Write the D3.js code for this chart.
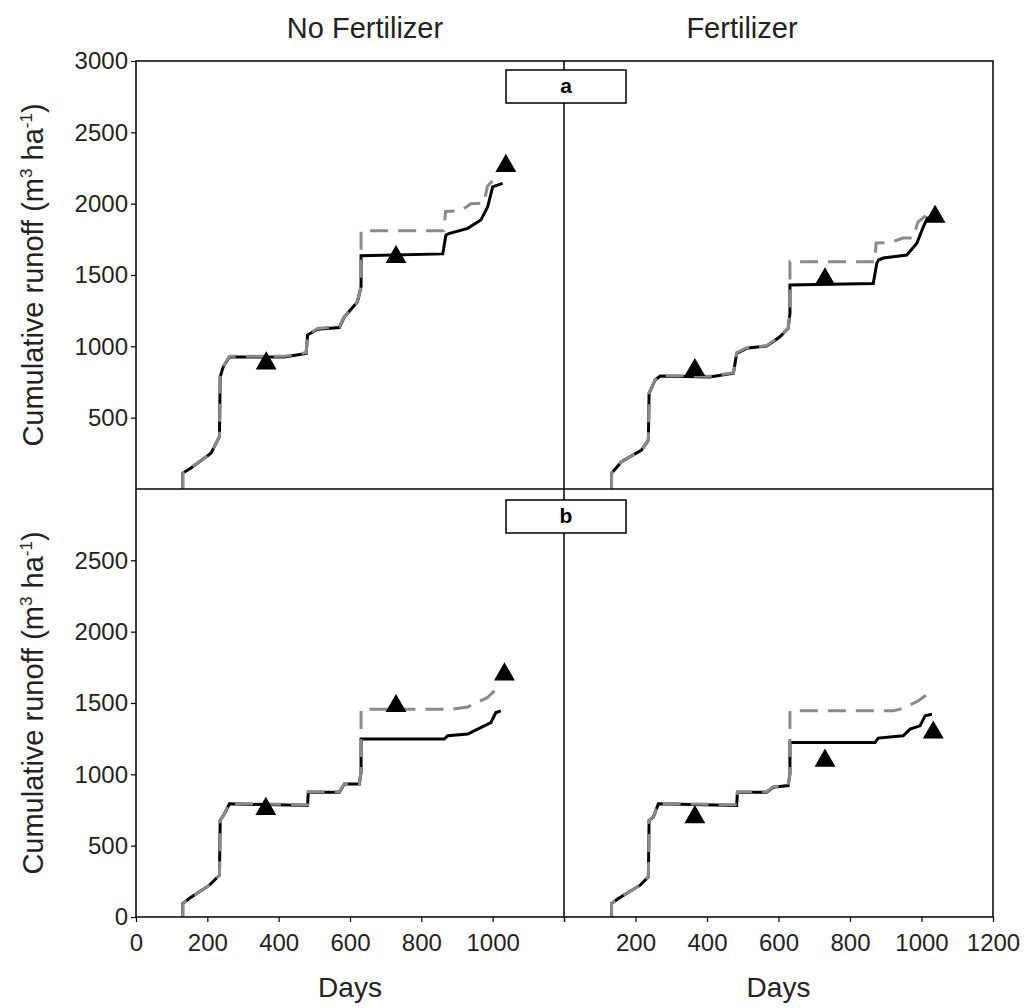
<!DOCTYPE html>
<html>
<head>
<meta charset="utf-8">
<script src="https://cdnjs.cloudflare.com/ajax/libs/d3/7.8.5/d3.min.js"></script>
<style>
  body { margin: 0; background: #fff; }
  svg { font-family: "Liberation Sans", Arial, sans-serif; }
</style>
</head>
<body>
<div id="vis"></div>
<script>
// cumulative runoff, [day, m3/ha]
var noFertA_sim = [[131,0],[131,112],[150,140],[180,195],[210,250],[234,367],[236,787],[245,860],[262,925],[416,925],[477,950],[481,1079],[509,1120],[570,1132],[584,1205],[621,1313],[631,1418],[631,1635],[860,1648],[869,1780],[877,1790],[930,1827],[967,1885],[986,1978],[1000,2118],[1028,2142]];
var noFertA_alt = [[131,0],[131,112],[150,140],[180,195],[210,250],[234,367],[236,787],[245,862],[262,930],[416,930],[477,955],[481,1082],[509,1125],[570,1137],[584,1208],[621,1315],[631,1418],[631,1810],[863,1810],[868,1945],[912,1952],[939,2000],[976,2005],[985,2120],[1000,2160],[1014,2212]];
var noFertA_obs = [[365,880],[729,1626],[1037,2265]];

var fertA_sim = [[133,0],[133,110],[161,191],[217,273],[236,343],[238,670],[255,764],[269,792],[408,785],[474,811],[483,951],[511,986],[567,1002],[604,1067],[627,1126],[632,1231],[632,1430],[865,1440],[875,1582],[880,1605],[893,1619],[959,1640],[987,1722],[1005,1838],[1018,1908]];
var fertA_alt = [[133,0],[133,110],[161,191],[217,273],[236,343],[238,670],[255,766],[269,796],[408,790],[474,815],[483,955],[511,990],[567,1005],[604,1070],[627,1128],[632,1231],[632,1593],[870,1593],[873,1724],[912,1727],[948,1759],[976,1760],[990,1871],[1018,1930]];
var fertA_obs = [[366,834],[730,1470],[1038,1908]];

var noFertB_sim = [[131,0],[131,95],[149,130],[206,223],[234,293],[236,677],[248,724],[262,793],[481,782],[483,874],[570,874],[584,933],[626,933],[631,1014],[631,1247],[864,1247],[874,1270],[930,1282],[958,1317],[995,1363],[1009,1433],[1023,1445]];
var noFertB_alt = [[131,0],[131,95],[149,130],[206,223],[234,293],[236,677],[248,726],[262,797],[481,786],[483,878],[570,878],[584,936],[626,936],[631,1014],[631,1456],[883,1456],[930,1472],[985,1537],[1014,1607]];
var noFertB_obs = [[364,758],[729,1479],[1033,1700]];

var fertB_sim = [[133,0],[133,95],[152,130],[213,223],[236,281],[238,677],[250,700],[264,793],[483,782],[485,874],[567,874],[585,909],[627,921],[632,1003],[632,1223],[870,1223],[879,1254],[949,1270],[968,1317],[996,1340],[1010,1410],[1029,1421]];
var fertB_alt = [[133,0],[133,95],[152,130],[213,223],[236,281],[238,677],[250,702],[264,797],[483,786],[485,878],[567,878],[585,912],[627,924],[632,1003],[632,1445],[921,1445],[950,1463],[990,1514],[1029,1584]];
var fertB_obs = [[366,700],[730,1096],[1033,1293]];

var colTitles = ["No Fertilizer", "Fertilizer"];
var panelLetters = ["a", "b"];
var xTicks = [0, 200, 400, 600, 800, 1000, 1200];
var xLabelsLeft = [0, 200, 400, 600, 800, 1000];
var xLabelsRight = [200, 400, 600, 800, 1000, 1200];
var yTicksTop = [500, 1000, 1500, 2000, 2500, 3000];
var yTicksBottom = [0, 500, 1000, 1500, 2000, 2500];

const W = 1026, H = 1008;
const X0 = 136, XM = 564, X1 = 993;
const Y0 = 61, YM = 489, Y1 = 917;

var svg = d3.select("#vis").append("svg")
    .attr("width", W)
    .attr("height", H);

var xLeft = d3.scaleLinear().domain([0, 1200]).range([X0, XM]);
var xRight = d3.scaleLinear().domain([0, 1200]).range([XM, X1]);
var yTop = d3.scaleLinear().domain([0, 3000]).range([YM, Y0]);
var yBottom = d3.scaleLinear().domain([0, 3000]).range([Y1, YM]);

var panels = [
    {x: xLeft, y: yTop, sim: noFertA_sim, alt: noFertA_alt, obs: noFertA_obs},
    {x: xRight, y: yTop, sim: fertA_sim, alt: fertA_alt, obs: fertA_obs},
    {x: xLeft, y: yBottom, sim: noFertB_sim, alt: noFertB_alt, obs: noFertB_obs},
    {x: xRight, y: yBottom, sim: fertB_sim, alt: fertB_alt, obs: fertB_obs}
];

panels.forEach(function (p) {
    var line = d3.line()
        .x(function (d) { return p.x(d[0]); })
        .y(function (d) { return p.y(d[1]); });
    svg.append("path")
        .attr("d", line(p.sim))
        .attr("fill", "none")
        .attr("stroke", "#000")
        .attr("stroke-width", 3);
    svg.append("path")
        .attr("d", line(p.alt))
        .attr("fill", "none")
        .attr("stroke", "#8a8a8a")
        .attr("stroke-width", 3)
        .attr("stroke-dasharray", "18,10");
    svg.append("g").selectAll("path")
        .data(p.obs)
        .enter()
        .append("path")
        .attr("d", d3.symbol(d3.symbolTriangle, 190))
        .attr("transform", function (d) {
            return "translate(" + p.x(d[0]) + "," + p.y(d[1]) + ")";
        })
        .attr("fill", "#000");
});

// frame and dividers
svg.append("rect")
    .attr("x", X0).attr("y", Y0)
    .attr("width", X1 - X0).attr("height", Y1 - Y0)
    .attr("fill", "none").attr("stroke", "#000").attr("stroke-width", 1.5);
svg.append("line")
    .attr("x1", X0).attr("x2", X1).attr("y1", YM).attr("y2", YM)
    .attr("stroke", "#000").attr("stroke-width", 1.5);
svg.append("line")
    .attr("x1", XM).attr("x2", XM).attr("y1", Y0).attr("y2", Y1)
    .attr("stroke", "#000").attr("stroke-width", 1.5);

// axes
function styleAxis(g) {
    g.select(".domain").remove();
    g.selectAll("line").attr("stroke", "#000").attr("stroke-width", 1.2);
    g.selectAll("text").attr("font-size", "24px").attr("fill", "#222")
        .attr("font-family", "Liberation Sans, Arial, sans-serif");
}

svg.append("g")
    .attr("transform", "translate(" + X0 + ",0)")
    .call(d3.axisLeft(yTop).tickValues(yTicksTop).tickSize(5).tickPadding(3).tickFormat(d3.format("d")))
    .call(styleAxis);
svg.append("g")
    .attr("transform", "translate(" + X0 + ",0)")
    .call(d3.axisLeft(yBottom).tickValues(yTicksBottom).tickSize(5).tickPadding(3).tickFormat(d3.format("d")))
    .call(styleAxis);

svg.append("g")
    .attr("transform", "translate(0," + Y1 + ")")
    .call(d3.axisBottom(xLeft).tickValues(xTicks).tickSize(5).tickPadding(12)
        .tickFormat(function (d) { return xLabelsLeft.indexOf(d) >= 0 ? d : ""; }))
    .call(styleAxis);
svg.append("g")
    .attr("transform", "translate(0," + Y1 + ")")
    .call(d3.axisBottom(xRight).tickValues(xTicks).tickSize(5).tickPadding(12)
        .tickFormat(function (d) { return xLabelsRight.indexOf(d) >= 0 ? d : ""; }))
    .call(styleAxis);

// panel letter boxes
[Y0 + 9, YM + 11].forEach(function (by, i) {
    svg.append("rect")
        .attr("x", 506).attr("y", by)
        .attr("width", 120).attr("height", 33)
        .attr("fill", "#fff").attr("stroke", "#000").attr("stroke-width", 1.5);
    svg.append("text")
        .attr("x", 566).attr("y", by + 23)
        .attr("text-anchor", "middle")
        .attr("font-size", "21px")
        .attr("font-weight", "bold")
        .text(panelLetters[i]);
});

// column titles
svg.selectAll(".coltitle")
    .data(colTitles)
    .enter()
    .append("text")
    .attr("x", function (d, i) { return i === 0 ? 365 : 742; })
    .attr("y", 38)
    .attr("text-anchor", "middle")
    .attr("font-size", "29px")
    .attr("fill", "#222")
    .text(function (d) { return d; });

// x titles
[xLeft(600), xRight(600)].forEach(function (cx) {
    svg.append("text")
        .attr("x", cx).attr("y", 997)
        .attr("text-anchor", "middle")
        .attr("font-size", "28px")
        .attr("fill", "#222")
        .text("Days");
});

// y titles
[(Y0 + YM) / 2, (YM + Y1) / 2].forEach(function (cy) {
    var t = svg.append("text")
        .attr("transform", "translate(43," + cy + ") rotate(-90)")
        .attr("text-anchor", "middle")
        .attr("font-size", "29px")
        .attr("fill", "#222");
    t.append("tspan").text("Cumulative runoff (m");
    t.append("tspan").attr("font-size", "17px").attr("dy", -11).text("3");
    t.append("tspan").attr("dy", 11).text(" ha");
    t.append("tspan").attr("font-size", "17px").attr("dy", -11).text("-1");
    t.append("tspan").attr("dy", 11).text(")");
});
</script>
</body>
</html>
